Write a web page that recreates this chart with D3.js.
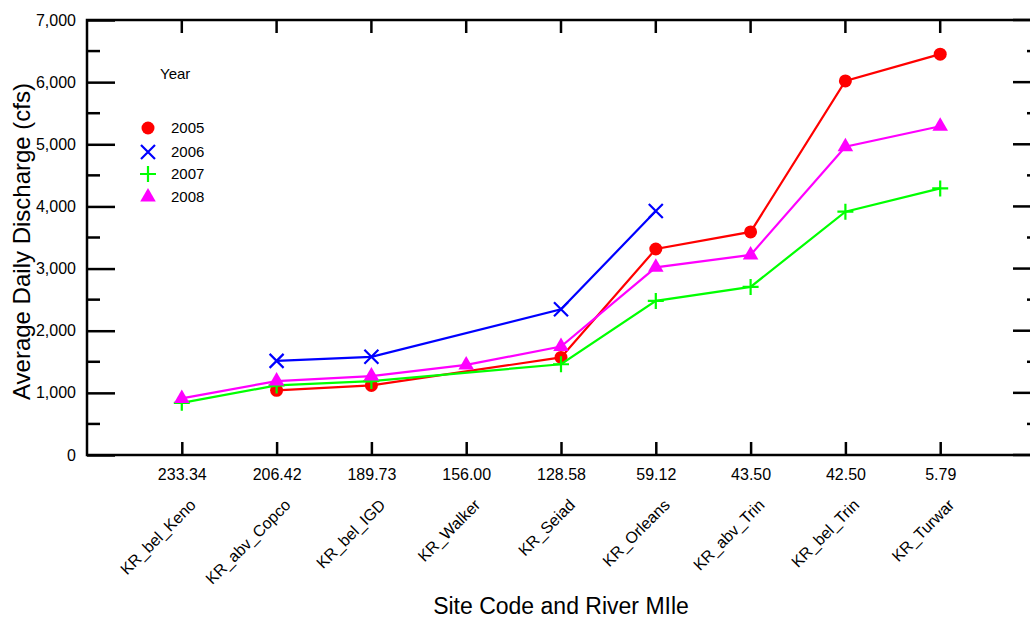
<!DOCTYPE html>
<html>
<head>
<meta charset="utf-8">
<script src="https://cdn.jsdelivr.net/npm/d3@7"></script>
<style>
body { margin: 0; background: #fff; }
svg { display: block; font-family: "Liberation Sans", Arial, sans-serif; }
</style>
</head>
<body>
<div id="chart"></div>
<script>
// sites and river miles along the x axis
var sites = ["KR_bel_Keno", "KR_abv_Copco", "KR_bel_IGD", "KR_Walker", "KR_Seiad", "KR_Orleans", "KR_abv_Trin", "KR_bel_Trin", "KR_Turwar"];
var riverMiles = ["233.34", "206.42", "189.73", "156.00", "128.58", "59.12", "43.50", "42.50", "5.79"];

// average daily discharge (cfs), null = no value
var q2005 = [null, 1040, 1120, null, 1570, 3315, 3590, 6020, 6450];
var q2006 = [null, 1515, 1580, null, 2345, 3925, null, null, null];
var q2007 = [840, 1120, 1190, null, 1460, 2480, 2705, 3915, 4290];
var q2008 = [910, 1190, 1270, 1450, 1745, 3020, 3220, 4960, 5290];

var years = ["2005", "2006", "2007", "2008"];
var colours = ["#ff0000", "#0000ff", "#00ff00", "#ff00ff"];
var shapes = ["circle", "x", "plus", "triangle"];
var yTicks = [0, 1000, 2000, 3000, 4000, 5000, 6000, 7000];

var width = 1030, height = 619;
var pLeft = 87, pRight = 1035, pTop = 20, pBottom = 455;

var svg = d3.select("#chart").append("svg")
	.attr("width", width)
	.attr("height", height);

var x = d3.scaleLinear().domain([-1, 9]).range([pLeft, pRight]);
var y = d3.scaleLinear().domain([0, 7000]).range([pBottom, pTop]);

var series = [q2005, q2006, q2007, q2008];

// frame
svg.append("rect")
	.attr("x", pLeft).attr("y", pTop)
	.attr("width", pRight - pLeft).attr("height", pBottom - pTop)
	.attr("fill", "none").attr("stroke", "black").attr("stroke-width", 2.5);

// left axis, ticks inside
var yAxis = d3.axisLeft(y).tickValues(yTicks).tickSize(-28).tickPadding(11)
	.tickFormat(d3.format(","));
var ga = svg.append("g").attr("transform", "translate(" + pLeft + ",0)").call(yAxis);
ga.select(".domain").remove();
ga.selectAll("line").attr("stroke-width", 2.5);
ga.selectAll("text").attr("font-size", 16).attr("font-family", null).attr("fill", "black");

var minorY = d3.range(500, 7000, 1000);
svg.append("g").selectAll("line").data(minorY).enter().append("line")
	.attr("x1", pLeft).attr("x2", pLeft + 13)
	.attr("y1", function(d){ return y(d); }).attr("y2", function(d){ return y(d); })
	.attr("stroke", "black").attr("stroke-width", 2.5);

// right axis ticks
svg.append("g").selectAll("line").data(yTicks).enter().append("line")
	.attr("x1", pRight - 22).attr("x2", pRight)
	.attr("y1", function(d){ return y(d); }).attr("y2", function(d){ return y(d); })
	.attr("stroke", "black").attr("stroke-width", 2.5);
svg.append("g").selectAll("line").data(minorY).enter().append("line")
	.attr("x1", pRight - 8).attr("x2", pRight)
	.attr("y1", function(d){ return y(d); }).attr("y2", function(d){ return y(d); })
	.attr("stroke", "black").attr("stroke-width", 2.5);

// bottom + top ticks
var idx = d3.range(sites.length);
var xAxis = d3.axisBottom(x).tickValues(idx).tickSize(-13).tickPadding(14)
	.tickFormat(function(i){ return riverMiles[i]; });
var gb = svg.append("g").attr("transform", "translate(0," + pBottom + ")").call(xAxis);
gb.select(".domain").remove();
gb.selectAll("line").attr("stroke-width", 2.5);
gb.selectAll("text").attr("font-size", 16).attr("font-family", null).attr("fill", "black");

svg.append("g").selectAll("line").data(idx).enter().append("line")
	.attr("x1", function(i){ return x(i); }).attr("x2", function(i){ return x(i); })
	.attr("y1", pTop).attr("y2", pTop + 13)
	.attr("stroke", "black").attr("stroke-width", 2.5);

// site names, rotated
svg.append("g").selectAll("text").data(sites).enter().append("text")
	.attr("text-anchor", "end")
	.attr("font-size", 16)
	.attr("transform", function(d, i){ return "translate(" + (x(i) + 15) + ",506) rotate(-45)"; })
	.text(function(d){ return d; });

// axis titles
svg.append("text")
	.attr("x", (pLeft + pRight) / 2).attr("y", 614)
	.attr("text-anchor", "middle").attr("font-size", 23)
	.text("Site Code and River MIle");

svg.append("text")
	.attr("transform", "translate(30," + ((pTop + pBottom) / 2 + 4) + ") rotate(-90)")
	.attr("text-anchor", "middle").attr("font-size", 24)
	.text("Average Daily Discharge (cfs)");

// lines connect across missing sites
var line = d3.line()
	.x(function(d){ return x(d.i); })
	.y(function(d){ return y(d.v); });

function drawMarker(g, shape, colour, cx, cy) {
	if (shape == "circle") {
		g.append("circle").attr("cx", cx).attr("cy", cy).attr("r", 6.5).attr("fill", colour);
	} else if (shape == "x") {
		g.append("path").attr("d", "M" + (cx-7) + "," + (cy-7) + "L" + (cx+7) + "," + (cy+7) + "M" + (cx-7) + "," + (cy+7) + "L" + (cx+7) + "," + (cy-7))
			.attr("stroke", colour).attr("stroke-width", 2.2).attr("fill", "none");
	} else if (shape == "plus") {
		g.append("path").attr("d", "M" + (cx-8) + "," + cy + "L" + (cx+8) + "," + cy + "M" + cx + "," + (cy-8) + "L" + cx + "," + (cy+8))
			.attr("stroke", colour).attr("stroke-width", 2.2).attr("fill", "none");
	} else {
		g.append("path").attr("d", d3.symbol().type(d3.symbolTriangle).size(105)())
			.attr("transform", "translate(" + cx + "," + cy + ")")
			.attr("fill", colour);
	}
}

series.forEach(function(vals, s){
	var pts = [];
	vals.forEach(function(v, i){ if (v != null) pts.push({i: i, v: v}); });
	var g = svg.append("g");
	g.append("path").datum(pts).attr("d", line)
		.attr("fill", "none").attr("stroke", colours[s]).attr("stroke-width", 2.2);
	pts.forEach(function(p){ drawMarker(g, shapes[s], colours[s], x(p.i), y(p.v)); });
});

// legend
var leg = svg.append("g");
leg.append("text").attr("x", 160).attr("y", 79).attr("font-size", 15).text("Year");
years.forEach(function(yr, k){
	var cy = [128, 152, 174, 197][k];
	drawMarker(leg, shapes[k], colours[k], 148, cy);
	leg.append("text").attr("x", 171).attr("y", cy + 5).attr("font-size", 15).text(yr);
});
</script>
</body>
</html>
